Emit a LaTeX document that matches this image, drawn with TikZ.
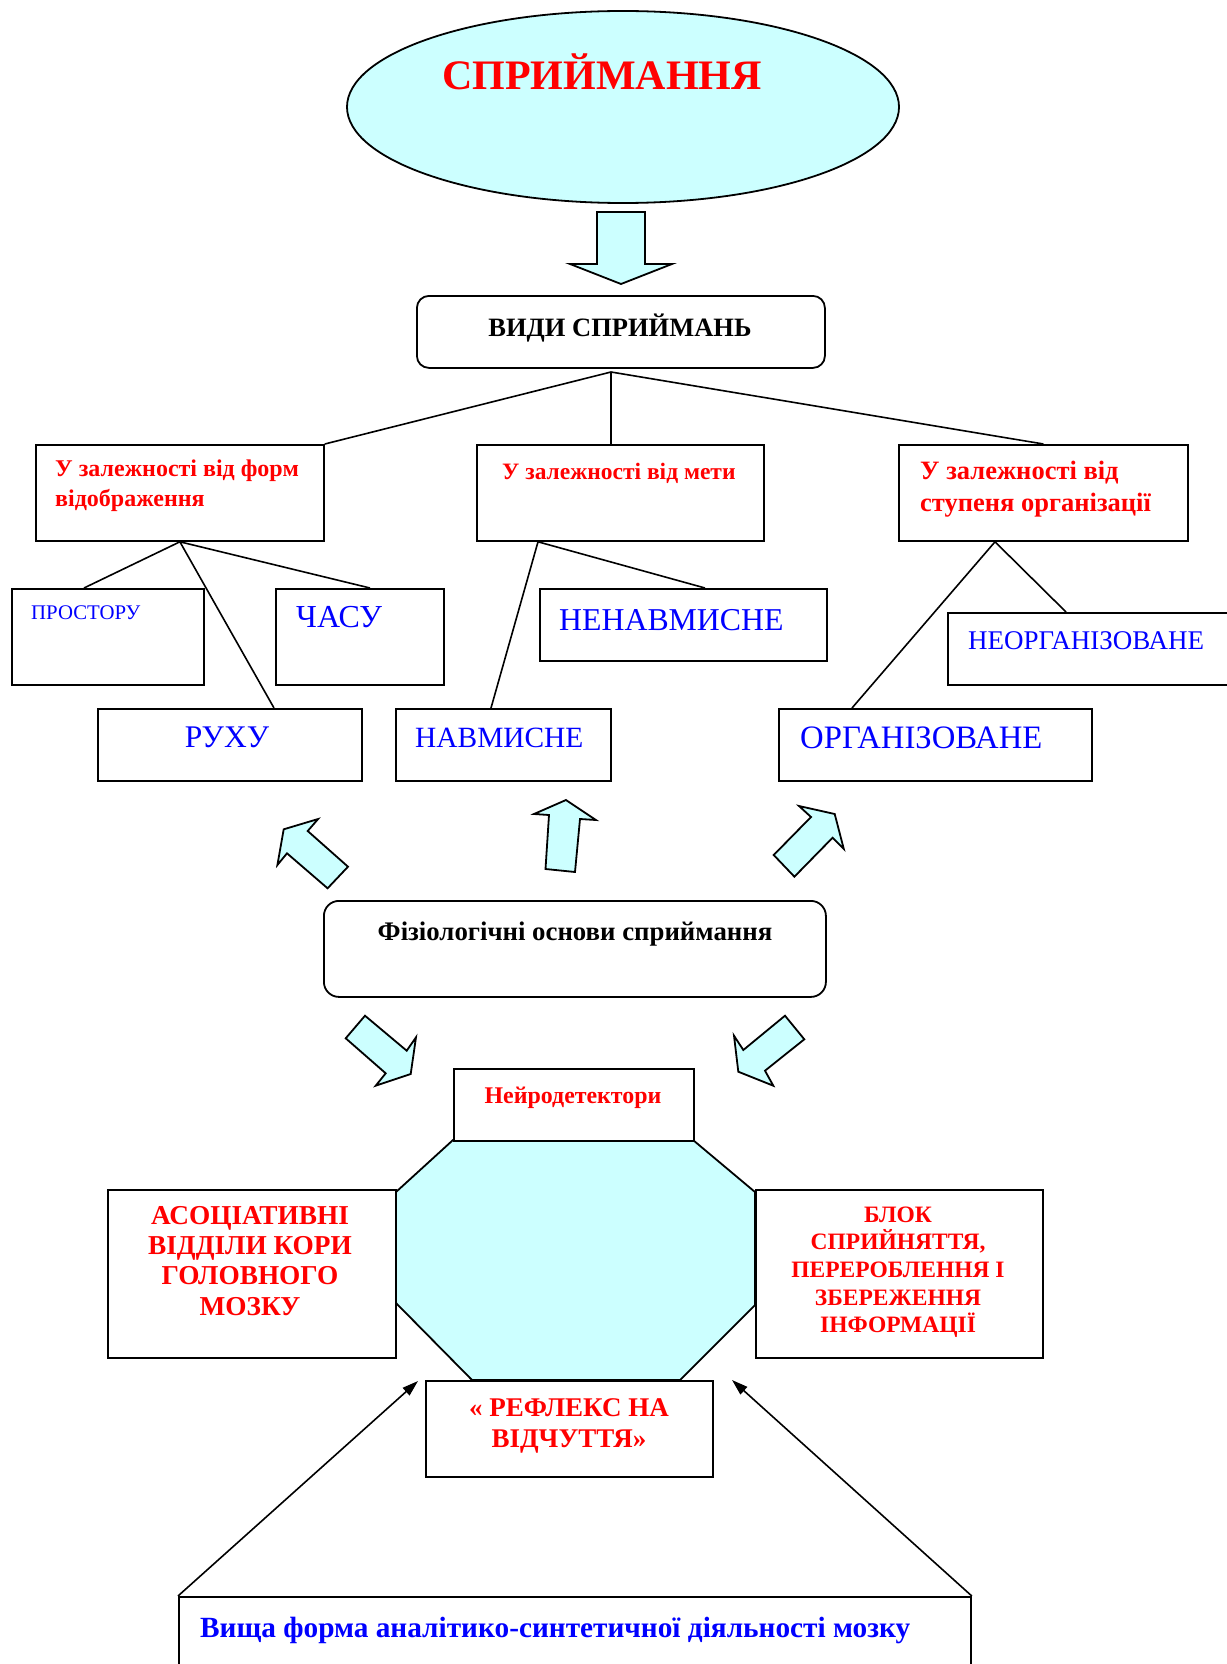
\documentclass[tikz,border=0pt]{standalone}
\usepackage{fontspec}
\setmainfont{Liberation Serif}
\usetikzlibrary{arrows.meta}
\definecolor{cy}{HTML}{CCFFFF}
\definecolor{rd}{HTML}{FF0000}
\definecolor{bl}{HTML}{0000FF}
\tikzset{
  box/.style={draw=black, line width=1.8pt, rectangle, inner sep=0pt, anchor=north west, fill=white},
  rbox/.style={box, rounded corners=#1},
  txt/.style={inner sep=0pt, anchor=base west},
  ctxt/.style={inner sep=0pt, anchor=base, align=center},
  barrow/.style={draw=black, line width=1.8pt, fill=cy, line join=miter},
  conn/.style={line width=1.6pt},
  tipconn/.style={line width=1.6pt, -{Triangle[length=16pt,width=10pt]}},
}
\newcommand{\fs}[2]{\fontsize{#1}{#2}\selectfont}
\begin{document}
\begin{tikzpicture}[x=1pt,y=-1pt]
\useasboundingbox (0,0) rectangle (1226,1664);
\fill[white] (0,0) rectangle (1226,1664);

% title ellipse
\draw[line width=1.8pt, fill=cy] (623,107) ellipse [x radius=276, y radius=96];
\node[inner sep=0pt, anchor=base, text=rd, font=\fs{42}{48}\bfseries] (title) at (602,90) {СПРИЙМАННЯ};

% down block arrow
\draw[barrow] (597,212) -- (645,212) -- (645,264) -- (672,264) -- (621,284) -- (570,264) -- (597,264) -- cycle;

% types box
\node[rbox=12pt, minimum width=408pt, minimum height=72pt] (vidy) at (416,295) {};
\node[inner sep=0pt, anchor=base, font=\fs{26.5}{30}\bfseries] (vidyt) at (620,336) {ВИДИ СПРИЙМАНЬ};

\coordinate (hub) at (611,372);

% second level
\node[box, minimum width=288pt, minimum height=96pt] (lbox) at (35,444) {};
\node[txt, align=left, text=rd, font=\fs{24}{30}\bfseries] (lboxt) at (55,506.7) {У залежності від форм\\відображення};
\node[box, minimum width=287pt, minimum height=96pt] (mbox) at (476,444) {};
\node[txt, text=rd, font=\fs{23.5}{30}\bfseries] (mboxt) at (502,479) {У залежності від мети};
\node[box, minimum width=289pt, minimum height=96pt] (rbox) at (898,444) {};
\node[txt, align=left, text=rd, font=\fs{26.5}{32.7}\bfseries] (rboxt) at (920,511.7) {У залежності від\\ступеня організації};

\draw[conn] (hub) -- (lbox.north east);
\draw[conn] (hub) -- ([xshift=135pt]mbox.north west);
\draw[conn] (hub) -- (rbox.north);

% third level left
\node[box, minimum width=192pt, minimum height=96pt] (prost) at (11,588) {};
\node[txt, text=bl, font=\fs{20.8}{24}] (prostt) at (31,619) {ПРОСТОРУ};
\node[box, minimum width=168pt, minimum height=96pt] (chasu) at (275,588) {};
\node[txt, text=bl, font=\fs{32}{36}] (chasut) at (296,627) {ЧАСУ};
\node[box, minimum width=264pt, minimum height=72pt] (rukhu) at (97,708) {};
\node[inner sep=0pt, anchor=base, text=bl, font=\fs{31.5}{36}] (rukhut) at (227,747) {РУХУ};

\draw[conn] (lbox.south) -- ([xshift=73pt]prost.north west);
\draw[conn] (lbox.south) -- ([xshift=177pt]rukhu.north west);
\draw[conn] (lbox.south) -- ([xshift=95pt]chasu.north west);

% third level middle
\node[box, minimum width=287pt, minimum height=72pt] (nenavm) at (539,588) {};
\node[txt, text=bl, font=\fs{31.8}{36}] (nenavmt) at (559,630) {НЕНАВМИСНЕ};
\node[box, minimum width=215pt, minimum height=72pt] (navm) at (395,708) {};
\node[txt, text=bl, font=\fs{29.4}{34}] (navmt) at (415,747) {НАВМИСНЕ};

\draw[conn] ([xshift=62pt]mbox.south west) -- ([xshift=96pt]navm.north west);
\draw[conn] ([xshift=62pt]mbox.south west) -- ([xshift=166pt]nenavm.north west);

% third level right
\node[box, minimum width=293pt, minimum height=72pt] (neorg) at (947,612) {};
\node[txt, text=bl, font=\fs{27}{30}] (neorgt) at (968,649) {НЕОРГАНІЗОВАНЕ};
\node[box, minimum width=313pt, minimum height=72pt] (org) at (778,708) {};
\node[txt, text=bl, font=\fs{32.7}{36}] (orgt) at (800,748) {ОРГАНІЗОВАНЕ};

\draw[conn] ([xshift=97pt]rbox.south west) -- ([xshift=74pt]org.north west);
\draw[conn] ([xshift=97pt]rbox.south west) -- ([xshift=119pt]neorg.north west);

% up block arrows
\draw[barrow] (283.7,829.3) -- (318.1,819) -- (307.7,831) -- (348,866.7) -- (327.6,888.3) -- (287,853.3) -- (277.4,865) -- cycle;
\draw[barrow] (566,800) -- (596,820) -- (580,819) -- (575,872) -- (545.5,869) -- (549,815) -- (534,814) -- cycle;
\draw[barrow] (834.7,814) -- (843.8,849) -- (832.6,837.7) -- (794.4,876.7) -- (773.7,855) -- (811,817) -- (799,806) -- cycle;

% physiology box
\node[rbox=15pt, minimum width=502pt, minimum height=96pt] (fiz) at (323,900) {};
\node[inner sep=0pt, anchor=base, font=\fs{26.8}{30}\bfseries] (fizt) at (575,940) {Фізіологічні основи сприймання};

% down block arrows
\draw[barrow] (345.7,1038.3) -- (365,1015.7) -- (406.7,1050.7) -- (416,1037.3) -- (410.7,1074) -- (375.7,1085.7) -- (385.7,1073.3) -- cycle;
\draw[barrow] (785,1015.7) -- (804.3,1039.3) -- (765,1070.7) -- (773.3,1085.7) -- (738.3,1071.7) -- (734,1035.7) -- (743.3,1050) -- cycle;

% octagon
\draw[line width=1.8pt, fill=cy, line join=miter] (453,1140) -- (693,1140) -- (755,1192) -- (755,1305) -- (680,1380) -- (472,1380) -- (396,1303) -- (396,1192) -- cycle;

\node[box, minimum width=240pt, minimum height=72pt] (neuro) at (453,1068) {};
\node[inner sep=0pt, anchor=base, text=rd, font=\fs{23.9}{26}\bfseries] (neurot) at (573,1103) {Нейродетектори};

\node[box, minimum width=288pt, minimum height=168pt] (asoc) at (107,1189) {};
\node[ctxt, text=rd, font=\fs{27.3}{30.3}\bfseries] (asoct) at (250,1315) {АСОЦІАТИВНІ\\ВІДДІЛИ КОРИ\\ГОЛОВНОГО\\МОЗКУ};

\node[box, minimum width=287pt, minimum height=168pt] (blok) at (755,1189) {};
\node[ctxt, text=rd, font=\fs{23.5}{27.6}\bfseries] (blokt) at (898,1332.7) {БЛОК\\СПРИЙНЯТТЯ,\\ПЕРЕРОБЛЕННЯ І\\ЗБЕРЕЖЕННЯ\\ІНФОРМАЦІЇ};

\node[box, minimum width=287pt, minimum height=96pt] (refl) at (425,1380) {};
\node[ctxt, text=rd, font=\fs{27}{30.3}\bfseries] (reflt) at (569,1447) {« РЕФЛЕКС НА\\ВІДЧУТТЯ»};

% bottom box
\node[box, minimum width=792pt, minimum height=110pt] (vysh) at (178,1596) {};
\node[txt, text=bl, font=\fs{29.3}{32}\bfseries] (vysht) at (200,1637) {Вища форма аналітико-синтетичної діяльності мозку};

\coordinate (tipL) at (418,1381);
\coordinate (tipR) at (732,1380);
\draw[tipconn] (vysh.north west) -- (tipL);
\draw[tipconn] (vysh.north east) -- (tipR);
\end{tikzpicture}
\end{document}
